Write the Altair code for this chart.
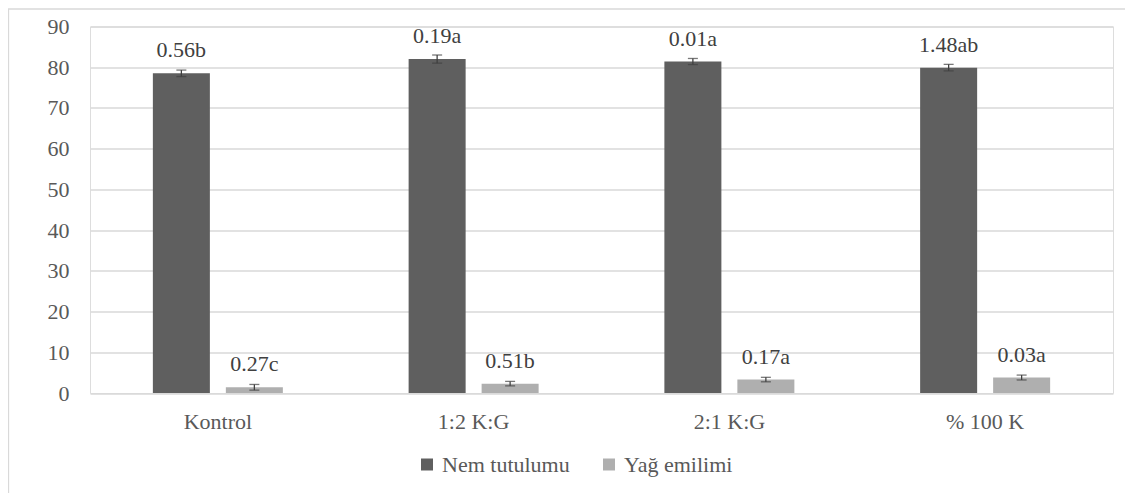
import altair as alt
import pandas as pd

categories = ["Kontrol", "1:2 K:G", "2:1 K:G", "% 100 K"]
series = ["Nem tutulumu", "Yağ emilimi"]
nem = [78.5, 82.0, 81.4, 79.9]
yag = [1.4, 2.3, 3.3, 3.8]
nem_err = [0.8, 1.0, 0.75, 0.8]
yag_err = [0.7, 0.55, 0.55, 0.6]
nem_labels = ["0.56b", "0.19a", "0.01a", "1.48ab"]
yag_labels = ["0.27c", "0.51b", "0.17a", "0.03a"]
y_ticks = [0, 10, 20, 30, 40, 50, 60, 70, 80, 90]

rows = []
for i, c in enumerate(categories):
    rows.append({"cat": c, "series": series[0], "value": nem[i],
                 "lo": nem[i] - nem_err[i], "hi": nem[i] + nem_err[i], "label": nem_labels[i]})
    rows.append({"cat": c, "series": series[1], "value": yag[i],
                 "lo": yag[i] - yag_err[i], "hi": yag[i] + yag_err[i], "label": yag_labels[i]})
df = pd.DataFrame(rows)

FONT = "Liberation Serif, Times New Roman, serif"
FS = 22
W, H = 1023, 366.5

x_enc = alt.X("cat:N", sort=categories, title=None,
              scale=alt.Scale(paddingInner=0.4917, paddingOuter=0.2458),
              axis=alt.Axis(labelAngle=0, ticks=False, tickSize=0, domain=False,
                            labelPadding=28, labelBaseline="middle",
                            labelFont=FONT, labelFontSize=FS, labelColor="#595959"))
xo_enc = alt.XOffset("series:N", sort=series,
                     scale=alt.Scale(paddingInner=0.219, paddingOuter=0))
color_enc = alt.Color("series:N", sort=series,
                      scale=alt.Scale(domain=series, range=["#5f5f5f", "#afafaf"]),
                      legend=alt.Legend(title=None, orient="none", direction="horizontal",
                                        legendX=326, legendY=427, symbolType="square",
                                        symbolSize=144, symbolStrokeWidth=0,
                                        labelFont=FONT, labelFontSize=FS, labelColor="#595959",
                                        labelOffset=4, columnPadding=28, padding=0))

base = alt.Chart(df)

bars = base.mark_bar().encode(
    x=x_enc, xOffset=xo_enc,
    y=alt.Y("value:Q", title=None,
            scale=alt.Scale(domain=[0, 90], nice=False),
            axis=alt.Axis(values=y_ticks, ticks=False, tickSize=0, domain=False,
                          labelPadding=21, labelFont=FONT, labelFontSize=FS,
                          labelColor="#595959", gridColor="#d9d9d9", gridWidth=1.3)),
    color=color_enc,
)

err = base.mark_rule(color="#404040", strokeWidth=1.3).encode(
    x=alt.X("cat:N", sort=categories), xOffset=xo_enc,
    y="lo:Q", y2="hi:Q",
)
cap_hi = base.mark_tick(color="#404040", thickness=1.3, size=10, orient="horizontal").encode(
    x=alt.X("cat:N", sort=categories), xOffset=xo_enc, y="hi:Q",
)
cap_lo = base.mark_tick(color="#404040", thickness=1.3, size=10, orient="horizontal").encode(
    x=alt.X("cat:N", sort=categories), xOffset=xo_enc, y="lo:Q",
)

labels = base.mark_text(font=FONT, fontSize=FS, color="#404040", dy=-16,
                        baseline="alphabetic", align="center").encode(
    x=alt.X("cat:N", sort=categories), xOffset=xo_enc,
    y="value:Q", text="label:N",
)

border = alt.Chart(pd.DataFrame({"a": [0]})).mark_rect(
    fill=None, stroke="#d9d9d9", strokeWidth=1.3).encode(
    x=alt.value(-81.5), x2=alt.value(1200), y=alt.value(-17.5), y2=alt.value(600),
)

chart = alt.layer(bars, err, cap_hi, cap_lo, labels, border).properties(
    width=W, height=H,
    autosize=alt.AutoSizeParams(type="none"),
    padding={"left": 82, "top": 18.5, "right": 12, "bottom": 100},
).configure_view(stroke=None).configure(background="white")

chart.save("out.html", embed_options={"renderer": "svg", "actions": False})
